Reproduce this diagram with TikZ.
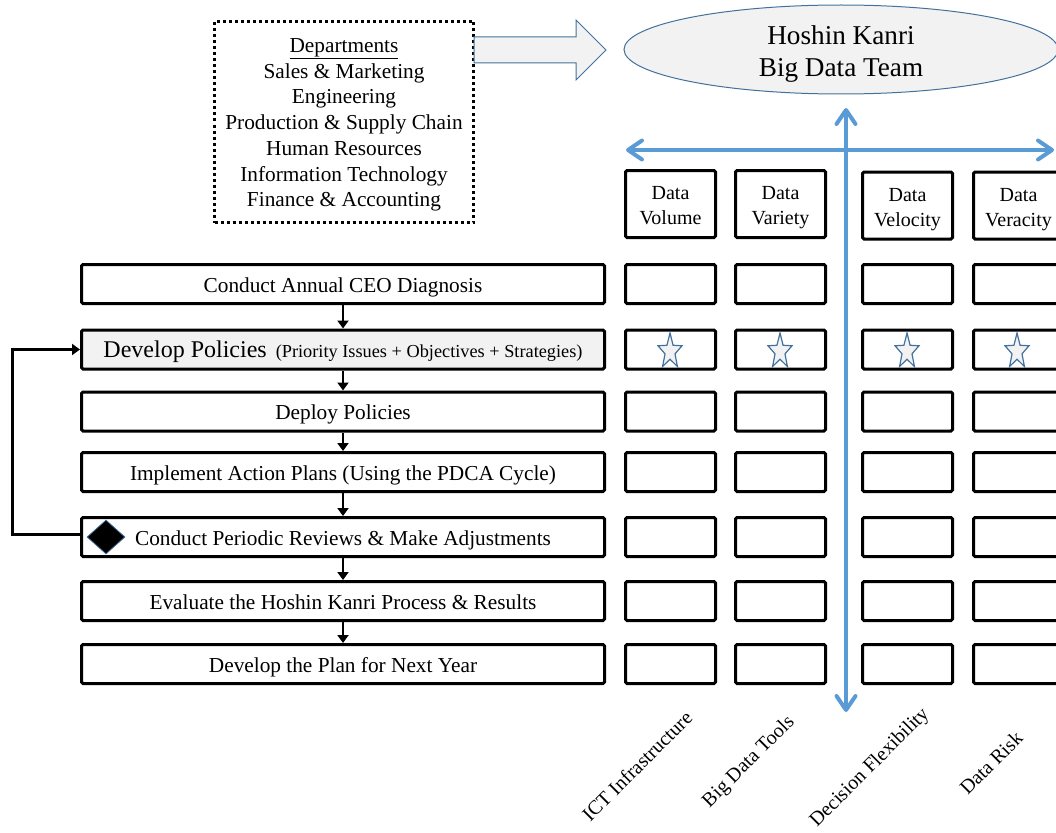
\documentclass[tikz,border=0pt]{standalone}
\usepackage{fontspec}
\setmainfont{Liberation Serif}
\usetikzlibrary{arrows.meta,shapes.geometric}
\definecolor{axisblue}{HTML}{5B9BD5}
\definecolor{edgeblue}{HTML}{41719C}
\definecolor{paleGray}{HTML}{F2F2F2}

\begin{document}
\begin{tikzpicture}[x=1pt,y=-1pt,
  stepbox/.style={draw, line width=3pt, rounded corners=1.5pt,
    minimum width=523pt, minimum height=39pt, inner sep=0pt,
    text height=21pt, text depth=4.6pt,
    font=\fontsize{21.3}{25}\selectfont},
  cell/.style={draw, line width=3pt, rounded corners=1.5pt,
    minimum width=90pt, minimum height=39pt, inner sep=0pt},
  header/.style={cell, minimum height=67pt},
  headtext/.style={align=center, inner sep=0pt, font=\fontsize{20}{25}\selectfont},
  flow/.style={line width=2.5pt, -{Triangle[length=8pt,width=11pt]}},
  axis/.style={draw=axisblue, line width=4pt, line cap=round,
    {Straight Barb[length=14pt,width=19pt,round]}-{Straight Barb[length=14pt,width=19pt,round]}},
  colname/.style={rotate=45, font=\fontsize{20}{24}\selectfont, inner sep=0pt},
  starmark/.style={star, star points=5, star point ratio=2.4, draw=edgeblue,
    fill=paleGray, line width=1.2pt, minimum size=37pt, inner sep=0pt, transform shape}
]
\useasboundingbox (0,0) rectangle (1056,832);
\clip (0,0) rectangle (1056,832);

% departments list
\node[draw, line width=3pt, dash pattern=on 3pt off 3pt,
      minimum width=259pt, minimum height=201pt, inner sep=0pt] (dept) at (344,122) {};
\node[align=center, inner sep=0pt, font=\fontsize{21.3}{25.75}\selectfont]
  (depttext) at ([yshift=-3pt]dept.center)
  {\underline{Departments}\\Sales \& Marketing\\Engineering\\Production \& Supply Chain\\
   Human Resources\\Information Technology\\Finance \& Accounting};

% block arrow towards the team
\draw[draw=edgeblue, fill=paleGray, line width=1pt, line join=miter]
  (474,37) -- (576,37) -- (576,20) -- (606,50) -- (576,80) -- (576,63) -- (474,63) -- cycle;

% team ellipse
\node[ellipse, draw=edgeblue, fill=paleGray, line width=1pt,
      minimum width=434pt, minimum height=89pt, inner sep=0pt] (team) at (841,49.5) {};
\node[align=center, inner sep=0pt, font=\fontsize{27.2}{32}\selectfont]
  (teamtext) at ([yshift=-4.3pt]team.center) {Hoshin Kanri\\Big Data Team};

% process steps
\node[stepbox] (s1) at (343,284) {Conduct Annual CEO Diagnosis};
\node[stepbox, fill=paleGray] (s2) at (343,349.5)
  {\fontsize{24}{28}\selectfont Develop Policies\hspace{9pt}\fontsize{18.3}{22}\selectfont(Priority Issues + Objectives + Strategies)};
\node[stepbox] (s3) at (343,411.5) {Deploy Policies};
\node[stepbox] (s4) at (343,472) {Implement Action Plans (Using the PDCA Cycle)};
\node[stepbox] (s5) at (343,537) {Conduct Periodic Reviews \& Make Adjustments};
\node[stepbox] (s6) at (343,601) {Evaluate the Hoshin Kanri Process \& Results};
\node[stepbox] (s7) at (343,664) {Develop the Plan for Next Year};

\node[diamond, fill=black, draw=edgeblue, line width=0.8pt, aspect=1.1,
      minimum width=38pt, minimum height=34pt, inner sep=0pt] (flag) at (106,537) {};

\foreach \a/\b in {s1/s2, s2/s3, s3/s4, s4/s5, s5/s6, s6/s7}
  \draw[flow] (\a.south) -- (\b.north);

% review loop back to policy development
\draw[flow, line width=3pt] ([yshift=3pt]s5.west) -- ++(-67.5,0) |- (s2.west);

% headers of the big data columns
\node[header] (h1) at (670.5,204) {};
\node[header] (h2) at (780.5,204) {};
\node[header] (h3) at (907.5,205.5) {};
\node[header] (h4) at (1018.5,205.5) {};
\node[headtext] (h1t) at ([yshift=-4pt]h1.center) {Data\\Volume\vphantom{y}};
\node[headtext] (h2t) at ([yshift=-4pt]h2.center) {Data\\Variety};
\node[headtext] (h3t) at ([yshift=-4pt]h3.center) {Data\\Velocity};
\node[headtext] (h4t) at ([yshift=-4pt]h4.center) {Data\\Veracity};

% matrix cells
\foreach \r/\y in {1/284, 2/349.5, 3/411.5, 4/472, 5/537, 6/601, 7/664}
  \foreach \c/\x in {1/670.5, 2/780.5, 3/907.5, 4/1018.5}
    \node[cell] (c\r\c) at (\x,\y) {};

% stars in the policy row
\foreach \c/\x in {1/670, 2/780, 3/907, 4/1017}{
  \begin{scope}[shift={(\x,351.5)}, xscale=0.68]
    \node[starmark] (star\c) at (0,0) {};
  \end{scope}
}

% axes
\coordinate (hl) at (626,150);
\coordinate (hr) at (1054,150);
\coordinate (vt) at (846,108);
\coordinate (vb) at (846,712);
\draw[axis] (hl) -- (hr);
\draw[axis] (vt) -- (vb);

% column names
\node[colname] (l1) at (637,766) {ICT Infrastructure};
\node[colname] (l2) at (749,762) {Big Data Tools};
\node[colname] (l3) at (870,768) {Decision Flexibility};
\node[colname] (l4) at (991,763) {Data Risk};
\end{tikzpicture}
\end{document}
